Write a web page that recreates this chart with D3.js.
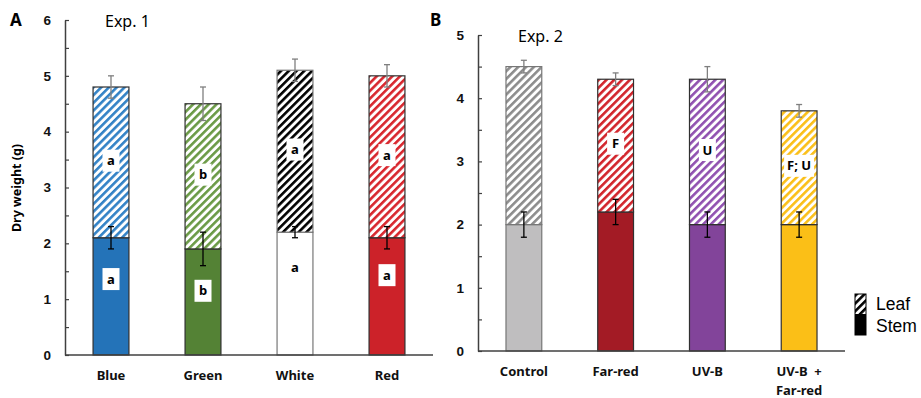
<!DOCTYPE html>
<html>
<head>
<meta charset="utf-8">
<script src="https://cdn.jsdelivr.net/npm/d3@7"></script>
<style>
  body { margin: 0; background: #fff; }
  svg { display: block; font-family: "Noto Sans", "Open Sans", sans-serif; }
</style>
</head>
<body>
<div id="chart"></div>
<script>
// Exp. 1 data
const catsA = ["Blue", "Green", "White", "Red"];
const stemA = [2.1, 1.9, 2.2, 2.1];
const stemErrA = [0.2, 0.3, 0.1, 0.2];
const totalA = [4.8, 4.5, 5.1, 5.0];
const totalErrA = [0.2, 0.3, 0.2, 0.2];
const stemLetterA = ["a", "b", "a", "a"];
const stemLetterAtA = [1.36, 1.15, 1.56, 1.43];
const leafLetterA = ["a", "b", "a", "a"];
const ticksA = [0, 1, 2, 3, 4, 5, 6];

// Exp. 2 data
const catsB = ["Control", "Far-red", "UV-B", "UV-B  +\nFar-red"];
const stemB = [2.0, 2.2, 2.0, 2.0];
const stemErrB = [0.2, 0.2, 0.2, 0.2];
const totalB = [4.5, 4.3, 4.3, 3.8];
const totalErrB = [0.1, 0.1, 0.2, 0.1];
const leafLetterB = ["", "F", "U", "F; U"];
const ticksB = [0, 1, 2, 3, 4, 5];

const svg = d3.select("#chart").append("svg")
  .attr("width", 921)
  .attr("height", 398);

const defs = svg.append("defs");
let patId = 0;
function hatch(color, bg) {
  const id = "hatch" + (patId++);
  const p = defs.append("pattern")
    .attr("id", id)
    .attr("patternUnits", "userSpaceOnUse")
    .attr("width", 5.5)
    .attr("height", 5.5)
    .attr("patternTransform", "rotate(45)");
  p.append("rect").attr("width", 5.5).attr("height", 5.5).attr("fill", bg || "#fff");
  p.append("line")
    .attr("x1", 1.3).attr("y1", 0).attr("x2", 1.3).attr("y2", 5.5)
    .attr("stroke", color)
    .attr("stroke-width", 2.6);
  return "url(#" + id + ")";
}

function drawPanel(cfg) {
  const g = svg.append("g");
  const x = d3.scaleBand()
    .domain(cfg.cats)
    .range(cfg.xRange)
    .paddingInner(0.61)
    .paddingOuter(0.305);
  const y = d3.scaleLinear()
    .domain([0, d3.max(cfg.ticks)])
    .range(cfg.yRange);

  // axes
  const yAxis = g.append("g")
    .attr("transform", `translate(${cfg.xRange[0]},0)`)
    .call(d3.axisLeft(y).tickValues(d3.range(0, d3.max(cfg.ticks) + 0.01, 0.5))
      .tickSize(-4).tickSizeOuter(0).tickFormat(d => Number.isInteger(d) ? d : ""));
  yAxis.select(".domain").attr("stroke", "#404040").attr("stroke-width", 1.5);
  yAxis.selectAll(".tick line").attr("stroke", "#404040").attr("stroke-width", 1.2);
  yAxis.selectAll(".tick text")
    .attr("x", -14)
    .attr("font-size", 13.5)
    .attr("font-weight", "bold")
    .attr("fill", "#111");

  cfg.cats.forEach((c, i) => {
    const x0 = x(c), w = x.bandwidth();
    const col = cfg.colors[i];
    // stem
    g.append("rect")
      .attr("x", x0).attr("width", w)
      .attr("y", y(cfg.stem[i]))
      .attr("height", y(0) - y(cfg.stem[i]))
      .attr("fill", col.stem)
      .attr("stroke", col.edge)
      .attr("stroke-width", 1.2);
    // leaf
    g.append("rect")
      .attr("x", x0).attr("width", w)
      .attr("y", y(cfg.total[i]))
      .attr("height", y(cfg.stem[i]) - y(cfg.total[i]))
      .attr("fill", hatch(col.leaf))
      .attr("stroke", col.edge)
      .attr("stroke-width", 1.2);

    const cx = x0 + w / 2;
    // letters
    function letter(txt, v, boxed) {
      if (!txt) return;
      const bw = txt.length > 1 ? 30 : 17;
      if (boxed) {
        g.append("rect")
          .attr("x", cx - bw / 2).attr("y", y(v) - 11)
          .attr("width", bw).attr("height", 22)
          .attr("fill", "#fff");
      }
      g.append("text")
        .attr("x", cx).attr("y", y(v))
        .attr("dy", "0.35em")
        .attr("text-anchor", "middle")
        .attr("font-size", 13)
        .attr("font-weight", "bold")
        .attr("fill", "#000")
        .text(txt);
    }
    if (cfg.leafLetter) letter(cfg.leafLetter[i], (cfg.stem[i] + cfg.total[i]) / 2 + 0.03, true);
    if (cfg.stemLetter) letter(cfg.stemLetter[i], cfg.stemLetterAt[i], col.stem !== "#ffffff");

    // error bars
    function err(v, e, color) {
      const eg = g.append("g").attr("stroke", color).attr("stroke-width", 1.3);
      eg.append("line").attr("x1", cx).attr("x2", cx).attr("y1", y(v - e)).attr("y2", y(v + e));
      eg.append("line").attr("x1", cx - 3).attr("x2", cx + 3).attr("y1", y(v - e)).attr("y2", y(v - e));
      eg.append("line").attr("x1", cx - 3).attr("x2", cx + 3).attr("y1", y(v + e)).attr("y2", y(v + e));
    }
    err(cfg.total[i], cfg.totalErr[i], "#7f7f7f");
    err(cfg.stem[i], cfg.stemErr[i], "#000");
  });

  // x axis line
  g.append("line")
    .attr("x1", cfg.xRange[0]).attr("x2", cfg.xRange[1])
    .attr("y1", y(0)).attr("y2", y(0))
    .attr("stroke", "#404040").attr("stroke-width", 1.5);

  // category labels
  cfg.cats.forEach(c => {
    const t = g.append("text")
      .attr("x", x(c) + x.bandwidth() / 2)
      .attr("y", y(0) + 25)
      .attr("text-anchor", "middle")
      .attr("font-size", 13)
      .attr("font-weight", "bold")
      .attr("fill", "#111");
    c.split("\n").forEach((line, k) => {
      t.append("tspan")
        .attr("x", x(c) + x.bandwidth() / 2)
        .attr("dy", k === 0 ? 0 : 19)
        .attr("xml:space", "preserve")
        .text(line);
    });
  });

  // panel letter & experiment title
  g.append("text")
    .attr("x", cfg.letterX).attr("y", 26)
    .attr("font-size", 17).attr("font-weight", "bold")
    .text(cfg.letter);
  g.append("text")
    .attr("x", cfg.xRange[0] + 40).attr("y", cfg.yRange[1] + 7)
    .attr("font-size", 16)
    .text(cfg.title);
  return g;
}

drawPanel({
  cats: catsA, stem: stemA, stemErr: stemErrA, total: totalA, totalErr: totalErrA,
  stemLetter: stemLetterA, stemLetterAt: stemLetterAtA, leafLetter: leafLetterA,
  ticks: ticksA,
  xRange: [65, 433], yRange: [355, 20],
  letter: "A", letterX: 10, title: "Exp. 1",
  colors: [
    { stem: "#2473b8", leaf: "#3282c6", edge: "#303030" },
    { stem: "#548235", leaf: "#6a9a45", edge: "#303030" },
    { stem: "#ffffff", leaf: "#000000", edge: "#777777" },
    { stem: "#cc2229", leaf: "#d8262d", edge: "#303030" }
  ]
});

drawPanel({
  cats: catsB, stem: stemB, stemErr: stemErrB, total: totalB, totalErr: totalErrB,
  leafLetter: leafLetterB,
  ticks: ticksB,
  xRange: [478, 845], yRange: [351, 35],
  letter: "B", letterX: 430, title: "Exp. 2",
  colors: [
    { stem: "#bfbebf", leaf: "#8c8c8c", edge: "#777777" },
    { stem: "#a31b25", leaf: "#d2242b", edge: "#303030" },
    { stem: "#82449a", leaf: "#9050b0", edge: "#303030" },
    { stem: "#fbbf17", leaf: "#fbbf17", edge: "#303030" }
  ]
});

// y axis title (panel A)
svg.append("text")
  .attr("transform", "translate(21,188) rotate(-90)")
  .attr("text-anchor", "middle")
  .attr("font-size", 12.5)
  .attr("font-weight", "bold")
  .text("Dry weight (g)");

// legend
const legend = svg.append("g").attr("transform", "translate(855,294)");
legend.append("rect").attr("width", 11).attr("height", 20).attr("fill", hatch("#000"));
legend.append("rect").attr("y", 20).attr("width", 11).attr("height", 21).attr("fill", "#000");
legend.append("rect").attr("width", 11).attr("height", 41)
  .attr("fill", "none").attr("stroke", "#000").attr("stroke-width", 1);
["Leaf", "Stem"].forEach((t, i) => {
  legend.append("text")
    .attr("x", 21).attr("y", 10 + i * 22)
    .attr("dy", "0.35em")
    .attr("font-family", "'Liberation Sans', Arial, sans-serif")
    .attr("font-size", 17.5)
    .text(t);
});
</script>
</body>
</html>
